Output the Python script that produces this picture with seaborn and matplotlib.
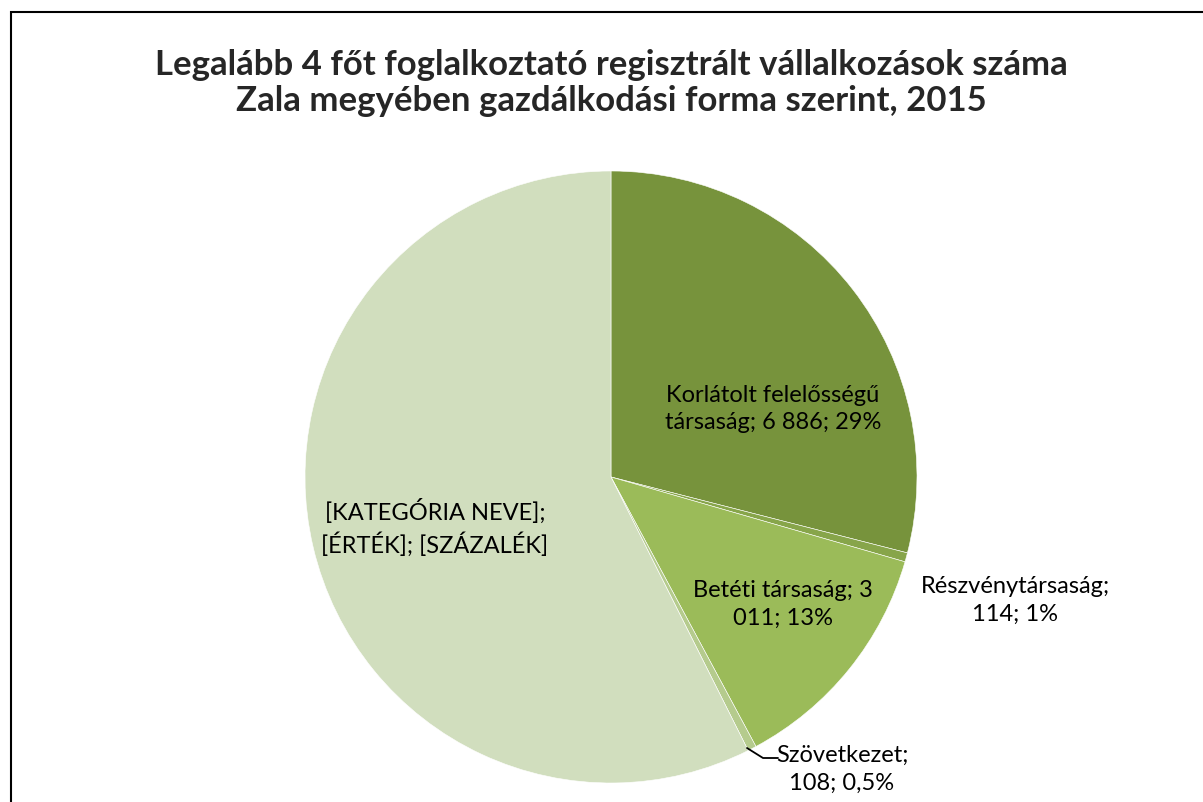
import matplotlib
matplotlib.use("Agg")
import matplotlib.pyplot as plt
import matplotlib.patches as mpatches
import seaborn as sns

sns.set_theme(style="white")
plt.rcParams['font.family'] = ['Lato', 'DejaVu Sans']

# adatok
kategoriak = ["Korlátolt felelősségű társaság", "Részvénytársaság", "Betéti társaság",
              "Szövetkezet", "[KATEGÓRIA NEVE]"]
ertekek = [6886, 114, 3011, 108, 13634]
cimkek = ["Korlátolt felelősségű\ntársaság; 6 886; 29%",
          "Részvénytársaság;\n114; 1%",
          "Betéti társaság; 3\n011; 13%",
          "Szövetkezet;\n108; 0,5%",
          "[KATEGÓRIA NEVE];\n[ÉRTÉK]; [SZÁZALÉK]"]
szinek = ["#77933C", "#87A54A", "#9BBB59", "#B5CB8D", "#D1DEBE"]

W, H = 1203, 803
fig = plt.figure(figsize=(W / 100, H / 100), dpi=100)
ax = fig.add_axes([0, 0, 1, 1])

ax.pie(ertekek, colors=szinek, startangle=90, counterclock=False,
       center=(611, H - 478), radius=306,
       wedgeprops=dict(edgecolor="white", linewidth=0.4))
ax.set_xlim(0, W)
ax.set_ylim(0, H)
ax.set_aspect("equal")
ax.axis("off")

# címkék
poz = [(773, 409), (1015, 600), (783, 604), (842, 769), (435, 528)]
for c, (x, y) in zip(cimkek, poz):
    ax.text(x, H - y, c, ha="center", va="center", fontsize=17, color="black",
            linespacing=1.4)

# vezető vonal a Szövetkezethez
ax.plot([747, 763, 778], [H - 749, H - 759, H - 759], color="black", lw=1.3)

fig.text(611 / W, 1 - 83 / H,
         "Legalább 4 főt foglalkoztató regisztrált vállalkozások száma\n"
         "Zala megyében gazdálkodási forma szerint, 2015",
         ha="center", va="center", fontsize=25, fontweight="bold", linespacing=1.18)

keret = mpatches.Rectangle((11 / W, -0.1), 1.2, 1.1 - 13 / H, transform=fig.transFigure,
                           fill=False, edgecolor="black", linewidth=1.5)
fig.patches.append(keret)

fig.savefig("out.png", dpi=100)
